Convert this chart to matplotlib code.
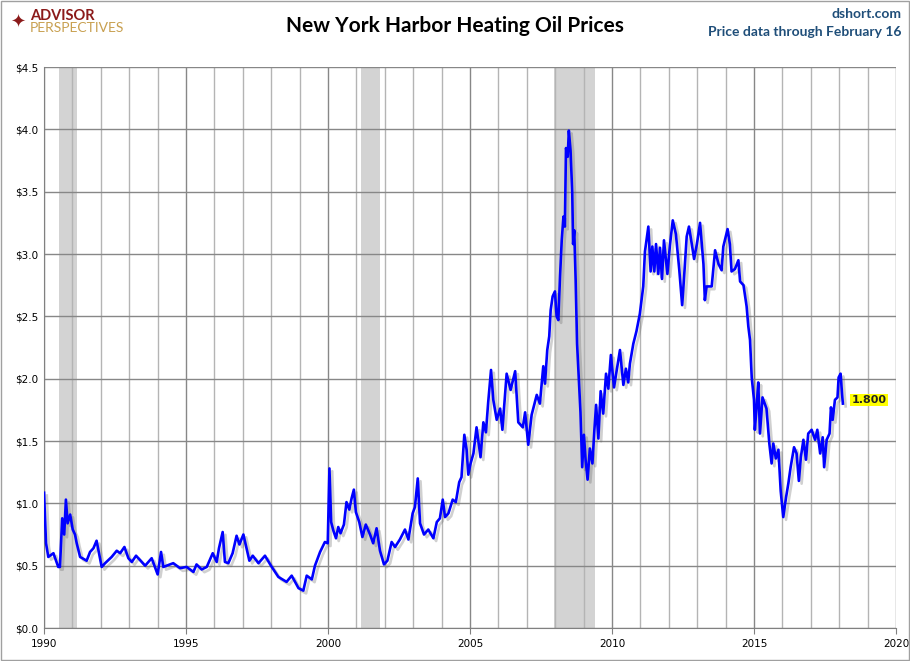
import matplotlib.pyplot as plt
import matplotlib.patheffects as pe
from matplotlib.ticker import MultipleLocator, FuncFormatter

# weekly-ish heating oil prices ($/gallon)
years = [
    1990.00, 1990.07, 1990.15, 1990.33, 1990.50, 1990.56, 1990.64, 1990.71, 1990.77, 1990.83,
    1990.92, 1991.01, 1991.09, 1991.15, 1991.27, 1991.50, 1991.62, 1991.74, 1991.85, 1992.03,
    1992.15, 1992.38, 1992.56, 1992.68, 1992.83, 1992.97, 1993.09, 1993.24, 1993.56, 1993.79,
    1994.00, 1994.12, 1994.20, 1994.55, 1994.79, 1995.02, 1995.26, 1995.37, 1995.55, 1995.73,
    1995.94, 1996.08, 1996.16, 1996.29, 1996.37, 1996.49, 1996.64, 1996.78, 1996.88, 1997.02,
    1997.23, 1997.35, 1997.55, 1997.78, 1997.99, 1998.25, 1998.54, 1998.72, 1998.96, 1999.13,
    1999.25, 1999.43, 1999.54, 1999.72, 1999.89, 1999.99,
    2000.05, 2000.11, 2000.19, 2000.28, 2000.36, 2000.44, 2000.56, 2000.65, 2000.75, 2000.83,
    2000.91, 2000.98, 2001.10, 2001.21, 2001.33, 2001.48, 2001.59, 2001.71, 2001.83, 2001.97,
    2002.09, 2002.24, 2002.36, 2002.53, 2002.71, 2002.83, 2002.98, 2003.06, 2003.16, 2003.24,
    2003.38, 2003.53, 2003.71, 2003.83, 2003.94, 2004.04, 2004.12, 2004.24, 2004.39, 2004.50,
    2004.62, 2004.70, 2004.80, 2004.88, 2004.94, 2005.02, 2005.12, 2005.23, 2005.37, 2005.47,
    2005.56, 2005.64, 2005.74, 2005.82, 2005.94, 2006.06, 2006.14, 2006.29, 2006.43, 2006.59,
    2006.70, 2006.86, 2006.94, 2007.05, 2007.17, 2007.35,
    2007.46, 2007.58, 2007.64, 2007.72, 2007.79, 2007.84, 2007.91, 2007.99, 2008.05, 2008.11,
    2008.17, 2008.23, 2008.29, 2008.34, 2008.38, 2008.44, 2008.48, 2008.54, 2008.60, 2008.63,
    2008.67, 2008.72, 2008.77, 2008.83, 2008.89, 2008.95, 2009.01, 2009.07, 2009.14, 2009.22,
    2009.31, 2009.38, 2009.44, 2009.52, 2009.60, 2009.69, 2009.79, 2009.87, 2009.96, 2010.07,
    2010.19, 2010.28, 2010.40, 2010.49, 2010.57, 2010.63, 2010.75, 2010.86, 2010.98, 2011.10,
    2011.16, 2011.28, 2011.36, 2011.42, 2011.49, 2011.55, 2011.63, 2011.69, 2011.76, 2011.83,
    2011.95, 2012.04, 2012.14, 2012.25, 2012.37, 2012.47, 2012.54, 2012.63, 2012.71, 2012.81,
    2012.89, 2012.99,
    2013.10, 2013.22, 2013.27, 2013.33, 2013.51, 2013.63, 2013.75, 2013.86, 2013.92, 2014.07,
    2014.15, 2014.21, 2014.33, 2014.45, 2014.51, 2014.63, 2014.74, 2014.80, 2014.86, 2014.92,
    2015.00, 2015.03, 2015.09, 2015.15, 2015.21, 2015.30, 2015.44, 2015.54, 2015.62, 2015.68,
    2015.77, 2015.86, 2015.94, 2016.03, 2016.13, 2016.21, 2016.29, 2016.41, 2016.50, 2016.58,
    2016.65, 2016.74, 2016.83, 2016.91, 2017.03, 2017.15, 2017.23, 2017.33, 2017.42, 2017.47,
    2017.56, 2017.66, 2017.71, 2017.77, 2017.85, 2017.94, 2017.98, 2018.05, 2018.10, 2018.13,
]
prices = [
    1.085, 0.68, 0.57, 0.60, 0.49, 0.49, 0.88, 0.75, 1.03, 0.84,
    0.91, 0.79, 0.75, 0.68, 0.57, 0.54, 0.61, 0.64, 0.70, 0.49,
    0.52, 0.57, 0.62, 0.60, 0.65, 0.56, 0.53, 0.58, 0.50, 0.56,
    0.43, 0.61, 0.49, 0.52, 0.48, 0.49, 0.45, 0.51, 0.47, 0.49,
    0.60, 0.53, 0.64, 0.77, 0.53, 0.52, 0.60, 0.74, 0.67, 0.75,
    0.54, 0.58, 0.52, 0.58, 0.50, 0.41, 0.37, 0.42, 0.32, 0.30,
    0.42, 0.39, 0.50, 0.61, 0.69, 0.68,
    1.28, 0.85, 0.78, 0.72, 0.81, 0.76, 0.83, 1.01, 0.95, 1.04,
    1.11, 0.93, 0.85, 0.73, 0.83, 0.75, 0.68, 0.80, 0.62, 0.51,
    0.54, 0.69, 0.65, 0.71, 0.79, 0.71, 0.92, 0.97, 1.20, 0.84,
    0.75, 0.79, 0.72, 0.85, 0.88, 1.03, 0.89, 0.92, 1.03, 1.01,
    1.17, 1.21, 1.55, 1.43, 1.23, 1.32, 1.40, 1.61, 1.37, 1.65,
    1.57, 1.81, 2.07, 1.83, 1.67, 1.76, 1.59, 2.04, 1.91, 2.06,
    1.65, 1.61, 1.73, 1.47, 1.71, 1.87,
    1.80, 2.10, 1.96, 2.23, 2.34, 2.55, 2.66, 2.70, 2.50, 2.47,
    2.82, 3.11, 3.30, 3.22, 3.85, 3.78, 3.99, 3.83, 3.49, 3.08,
    3.19, 2.79, 2.28, 2.01, 1.73, 1.29, 1.55, 1.35, 1.19, 1.44,
    1.32, 1.59, 1.79, 1.52, 1.90, 1.72, 2.04, 1.92, 2.19, 1.93,
    2.10, 2.23, 1.95, 2.08, 1.97, 2.12, 2.28, 2.38, 2.52, 2.74,
    3.02, 3.22, 2.86, 3.06, 2.86, 3.08, 2.84, 3.05, 2.80, 3.11,
    2.84, 3.07, 3.27, 3.16, 2.87, 2.59, 2.82, 3.14, 3.22, 3.08,
    2.96, 3.08,
    3.25, 2.92, 2.63, 2.74, 2.74, 3.03, 2.92, 2.87, 3.06, 3.20,
    3.08, 2.86, 2.88, 2.95, 2.78, 2.75, 2.58, 2.42, 2.31, 2.01,
    1.83, 1.59, 1.77, 1.97, 1.56, 1.85, 1.76, 1.48, 1.32, 1.48,
    1.36, 1.43, 1.10, 0.89, 1.05, 1.16, 1.29, 1.45, 1.40, 1.18,
    1.37, 1.51, 1.35, 1.56, 1.59, 1.51, 1.59, 1.40, 1.53, 1.29,
    1.51, 1.56, 1.77, 1.67, 1.83, 1.85, 2.01, 2.04, 1.88, 1.80,
]
recessions = [(1990.54, 1991.17), (2001.17, 2001.84), (2007.94, 2009.40)]
last_label = '1.800'

fig = plt.figure(figsize=(9.1, 6.61), dpi=100)
ax = fig.add_axes([0.0484, 0.0499, 0.9362, 0.8487])

for start, end in recessions:
    ax.axvspan(start, end, color='#d3d3d3', lw=0, zorder=0)

ax.plot(years, prices, color='#0000ff', lw=1.9, zorder=3,
        path_effects=[pe.SimpleLineShadow(offset=(2, -2), shadow_color='#666666', alpha=0.3),
                      pe.Normal()])

ax.text(years[-1] + 0.3, prices[-1] + 0.03, last_label, fontsize=8, fontweight='bold',
        va='center', ha='left', color='#222222',
        bbox=dict(boxstyle='square,pad=0.1', fc='#ffff00', ec='none'))

ax.set_xlim(1990, 2020)
ax.set_ylim(0, 4.5)
ax.xaxis.set_major_locator(MultipleLocator(5))
ax.xaxis.set_minor_locator(MultipleLocator(1))
ax.yaxis.set_major_locator(MultipleLocator(0.5))
ax.yaxis.set_major_formatter(FuncFormatter(lambda v, p: f'${v:.1f}'))
ax.grid(which='major', color='#878787', lw=1.0, zorder=1)
ax.grid(which='minor', axis='x', color='#b4b4b4', lw=1.0, zorder=1)
ax.set_axisbelow(True)
ax.tick_params(axis='both', labelsize=7.5, length=4, color='#808080', pad=4)
ax.tick_params(which='minor', length=0)
ax.tick_params(axis='y', length=0)
for side in ['top', 'right']:
    ax.spines[side].set_visible(False)
for side in ['left', 'bottom']:
    ax.spines[side].set_color('#808080')

# header texts
fig.text(0.5, 0.961, 'New York Harbor Heating Oil Prices', ha='center', va='center',
         fontsize=15, fontweight='bold', family='Lato')
fig.text(0.991, 0.979, 'dshort.com', ha='right', va='center', fontsize=10,
         fontweight='bold', color='#1f4e79', family='Lato')
fig.text(0.991, 0.951, 'Price data through February 16', ha='right', va='center',
         fontsize=10, fontweight='bold', color='#1f4e79', family='Lato')
fig.text(0.033, 0.976, 'ADVISOR', ha='left', va='center', fontsize=10.5,
         fontweight='bold', color='#8b1a1a', family='Lato')
fig.text(0.033, 0.957, 'PERSPECTIVES', ha='left', va='center', fontsize=10,
         color='#c8a050', family='Lato')
fig.text(0.020, 0.966, '\u2726', ha='center', va='center', fontsize=13, color='#8b1a1a',
         family='DejaVu Sans')

fig.patches.append(plt.Rectangle((0.001, 0.001), 0.998, 0.998, transform=fig.transFigure,
                                  fill=False, ec='#a0a0a0', lw=1))

fig.savefig('out.png', dpi=100)
